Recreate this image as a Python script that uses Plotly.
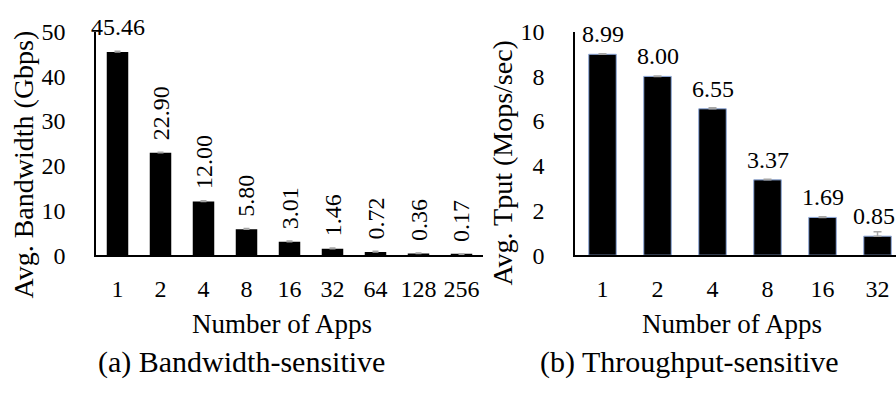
import plotly.graph_objects as go

# Panel (a): bandwidth-sensitive workloads
bw_apps = ["1", "2", "4", "8", "16", "32", "64", "128", "256"]
bw_values = [45.46, 22.90, 12.00, 5.80, 3.01, 1.46, 0.72, 0.36, 0.17]
bw_err = [0.15, 0.15, 0.15, 0.15, 0.15, 0.15, 0.15, 0.1, 0.1]

# Panel (b): throughput-sensitive workloads
tp_apps = ["1", "2", "4", "8", "16", "32"]
tp_values = [8.99, 8.00, 6.55, 3.37, 1.69, 0.85]
tp_err = [0.02, 0.02, 0.05, 0.03, 0.03, 0.2]

FONT = "Liberation Serif, DejaVu Serif, serif"
W, H = 896, 400


def px_x(p):
    return p / W


def px_y(p):
    return 1 - p / H


fig = go.Figure()

fig.add_trace(go.Bar(
    x=bw_apps, y=bw_values, xaxis="x", yaxis="y",
    marker=dict(color="black", line=dict(width=0)),
    error_y=dict(type="data", array=bw_err, arrayminus=[0] * len(bw_err),
                 symmetric=False, color="#A6A6A6", thickness=1.5, width=3),
    showlegend=False,
))

fig.add_trace(go.Bar(
    x=tp_apps, y=tp_values, xaxis="x2", yaxis="y2",
    marker=dict(color="black", line=dict(color="#8FAADC", width=1)),
    error_y=dict(type="data", array=tp_err, arrayminus=[0] * len(tp_err),
                 symmetric=False, color="#A6A6A6", thickness=1.5, width=4),
    showlegend=False,
))

annotations = []

# value labels, panel (a): first one horizontal, the rest vertical
# (category axes take the category index as annotation x)
for i, v in enumerate(bw_values):
    annotations.append(dict(
        x=i, y=v, xref="x", yref="y", text=f"{v:.2f}",
        showarrow=False, textangle=0 if i == 0 else -90,
        xanchor="center", yanchor="bottom", yshift=10,
        font=dict(family=FONT, size=24, color="black"),
    ))

# value labels, panel (b); the last one is nudged in from the page edge
for i, v in enumerate(tp_values):
    annotations.append(dict(
        x=i, y=v, xref="x2", yref="y2", text=f"{v:.2f}",
        showarrow=False, xanchor="center", yanchor="bottom", yshift=5,
        xshift=-4 if i == len(tp_values) - 1 else 0,
        font=dict(family=FONT, size=24, color="black"),
    ))


def paper_text(cx, cy, text, size, angle=0):
    return dict(x=px_x(cx), y=px_y(cy), xref="paper", yref="paper",
                xanchor="center", yanchor="middle", text=text,
                textangle=angle, showarrow=False,
                font=dict(family=FONT, size=size, color="black"))


# axis titles and panel captions
annotations += [
    paper_text(23, 162, "Avg. Bandwidth (Gbps)", 28, -90),
    paper_text(503, 160, "Avg. Tput (Mops/sec)", 28, -90),
    paper_text(282, 333, "Number of Apps", 27),
    paper_text(732, 333, "Number of Apps", 27),
    paper_text(241, 373, "(a) Bandwidth-sensitive", 30),
    paper_text(689, 373, "(b) Throughput-sensitive", 30),
]

tick_font = dict(family=FONT, size=24, color="black")
ydom = [px_y(259), px_y(20)]

fig.update_layout(
    width=W, height=H,
    margin=dict(l=0, r=0, t=0, b=0),
    paper_bgcolor="white", plot_bgcolor="white",
    bargap=0.5,
    font=dict(family=FONT, color="black"),
    xaxis=dict(domain=[px_x(96), px_x(483)], type="category",
               range=[-0.5, 8.5], showline=True, linecolor="black",
               linewidth=1.5, ticks="", showgrid=False, tickfont=tick_font,
               ticklabelstandoff=11, fixedrange=True),
    yaxis=dict(domain=ydom, range=[0, 50], dtick=10, showline=True,
               linecolor="black", linewidth=1.5, ticks="", showgrid=False,
               zeroline=False, tickfont=tick_font, ticklabelstandoff=24,
               fixedrange=True),
    xaxis2=dict(domain=[px_x(575), 1], type="category",
                range=[-0.5, 5.336], showline=True, linecolor="black",
                linewidth=1.5, ticks="", showgrid=False, tickfont=tick_font,
                ticklabelstandoff=11, anchor="y2", fixedrange=True),
    yaxis2=dict(domain=ydom, range=[0, 10], dtick=2, showline=True,
                linecolor="black", linewidth=1.5, ticks="", showgrid=False,
                zeroline=False, tickfont=tick_font, ticklabelstandoff=24,
                anchor="x2", fixedrange=True),
    annotations=annotations,
)

fig.write_html("out.html", config={"displayModeBar": False})
